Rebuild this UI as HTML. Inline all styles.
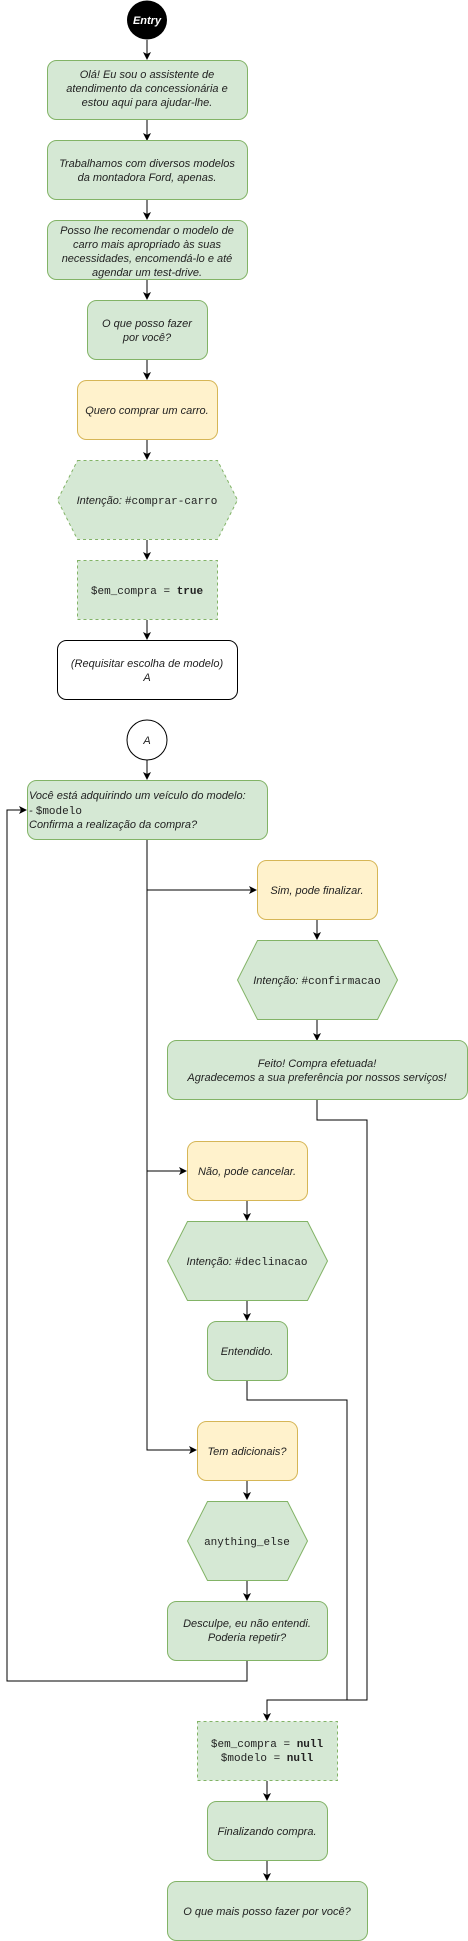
<!DOCTYPE html>
<html><head><meta charset="utf-8"><style>
html,body{margin:0;padding:0;background:#fff}
svg{display:block}
text{font-family:"Liberation Sans",sans-serif;font-size:11px;font-style:italic;fill:#222;text-anchor:middle}
.m{font-family:"Liberation Mono",monospace;font-style:normal}
.g{fill:#d5e8d4;stroke:#82b366;stroke-width:1}
.y{fill:#fff2cc;stroke:#d6b656;stroke-width:1}
.d{stroke-dasharray:3 3}
.l{fill:none;stroke:#000;stroke-width:1}
</style></head><body>
<svg width="468" height="1941" viewBox="0 0 468 1941" xmlns="http://www.w3.org/2000/svg">
<defs><marker id="a" markerWidth="8" markerHeight="8" refX="7" refY="4" orient="auto" markerUnits="userSpaceOnUse"><path d="M0,0 L8,4 L0,8 L2,4 Z" fill="#000"/></marker></defs>

<ellipse cx="147" cy="20" rx="20" ry="19.5" fill="#000"/>
<text x="147" y="24" style="fill:#fff;font-weight:bold">Entry</text>

<g class="l">
<path d="M147 40V59" marker-end="url(#a)"/>
<path d="M147 120V140" marker-end="url(#a)"/>
<path d="M147 200V219" marker-end="url(#a)"/>
<path d="M147 280V299" marker-end="url(#a)"/>
<path d="M147 360V379" marker-end="url(#a)"/>
<path d="M147 440V459" marker-end="url(#a)"/>
<path d="M147 540V559" marker-end="url(#a)"/>
<path d="M147 620V639" marker-end="url(#a)"/>
<path d="M147 760V779" marker-end="url(#a)"/>
<path d="M147 840V1450H196" marker-end="url(#a)"/>
<path d="M147 890H256" marker-end="url(#a)"/>
<path d="M147 1171H186" marker-end="url(#a)"/>
<path d="M317 920V939" marker-end="url(#a)"/>
<path d="M317 1020V1040" marker-end="url(#a)"/>
<path d="M317 1100V1120H367V1700H347"/>
<path d="M247 1201V1220" marker-end="url(#a)"/>
<path d="M247 1301V1320" marker-end="url(#a)"/>
<path d="M247 1380V1400H347V1700H267V1720" marker-end="url(#a)"/>
<path d="M247 1481V1499" marker-end="url(#a)"/>
<path d="M247 1581V1600" marker-end="url(#a)"/>
<path d="M247 1661V1681H7V810H26" marker-end="url(#a)"/>
<path d="M267 1781V1800" marker-end="url(#a)"/>
<path d="M267 1861V1880" marker-end="url(#a)"/>
</g>

<rect class="g" x="47.5" y="60.5" width="200" height="59" rx="9"/>
<text x="147" y="78">Olá! Eu sou o assistente de</text>
<text x="147" y="92">atendimento da concessionária e</text>
<text x="147" y="106">estou aqui para ajudar-lhe.</text>

<rect class="g" x="47.5" y="140.5" width="200" height="59" rx="9"/>
<text x="147" y="167">Trabalhamos com diversos modelos</text>
<text x="147" y="181">da montadora Ford, apenas.</text>

<rect class="g" x="47.5" y="220.5" width="200" height="59" rx="9"/>
<text x="147" y="234">Posso lhe recomendar o modelo de</text>
<text x="147" y="248">carro mais apropriado às suas</text>
<text x="147" y="262">necessidades, encomendá-lo e até</text>
<text x="147" y="276">agendar um test-drive.</text>

<rect class="g" x="87.5" y="300.5" width="120" height="59" rx="9"/>
<text x="147" y="327">O que posso fazer</text>
<text x="147" y="341">por você?</text>

<rect class="y" x="77.5" y="380.5" width="140" height="59" rx="9"/>
<text x="147" y="414">Quero comprar um carro.</text>

<polygon class="g d" points="77.5,460.5 217.5,460.5 237.5,500 217.5,539.5 77.5,539.5 57.5,500"/>
<text x="147" y="504">Intenção: <tspan class="m">#comprar-carro</tspan></text>

<rect class="g d" x="77.5" y="560.5" width="140" height="59"/>
<text class="m" x="147" y="594">$em_compra = <tspan style="font-weight:bold">true</tspan></text>

<rect x="57.5" y="640.5" width="180" height="59" rx="9" fill="#fff" stroke="#000"/>
<text x="147" y="667">(Requisitar escolha de modelo)</text>
<text x="147" y="681">A</text>

<circle cx="147" cy="740" r="20" fill="#fff" stroke="#000"/>
<text x="147" y="744">A</text>

<rect class="g" x="27.5" y="780.5" width="240" height="59" rx="9"/>
<text x="29" y="799" style="text-anchor:start">Você está adquirindo um veículo do modelo:</text>
<text x="29" y="814" style="text-anchor:start">- <tspan class="m">$modelo</tspan></text>
<text x="29" y="828" style="text-anchor:start">Confirma a realização da compra?</text>

<rect class="y" x="257.5" y="860.5" width="120" height="59" rx="9"/>
<text x="317" y="894">Sim, pode finalizar.</text>

<polygon class="g" points="257.5,940.5 377.5,940.5 397.5,980 377.5,1019.5 257.5,1019.5 237.5,980"/>
<text x="317" y="984">Intenção: <tspan class="m">#confirmacao</tspan></text>

<rect class="g" x="167.5" y="1040.5" width="300" height="59" rx="9"/>
<text x="317" y="1067">Feito! Compra efetuada!</text>
<text x="317" y="1081">Agradecemos a sua preferência por nossos serviços!</text>

<rect class="y" x="187.5" y="1141.5" width="120" height="59" rx="9"/>
<text x="247" y="1175">Não, pode cancelar.</text>

<polygon class="g" points="187.5,1221.5 307.5,1221.5 327.5,1261 307.5,1300.5 187.5,1300.5 167.5,1261"/>
<text x="247" y="1265">Intenção: <tspan class="m">#declinacao</tspan></text>

<rect class="g" x="207.5" y="1321.5" width="80" height="59" rx="9"/>
<text x="247" y="1355">Entendido.</text>

<rect class="y" x="197.5" y="1421.5" width="100" height="59" rx="9"/>
<text x="247" y="1455">Tem adicionais?</text>

<polygon class="g" points="207.5,1501.5 287.5,1501.5 307.5,1541 287.5,1580.5 207.5,1580.5 187.5,1541"/>
<text class="m" x="247" y="1545">anything_else</text>

<rect class="g" x="167.5" y="1601.5" width="160" height="59" rx="9"/>
<text x="247" y="1627">Desculpe, eu não entendi.</text>
<text x="247" y="1641">Poderia repetir?</text>

<rect class="g d" x="197.5" y="1721.5" width="140" height="59"/>
<text class="m" x="267" y="1747">$em_compra = <tspan style="font-weight:bold">null</tspan></text>
<text class="m" x="267" y="1761">$modelo = <tspan style="font-weight:bold">null</tspan></text>

<rect class="g" x="207.5" y="1801.5" width="120" height="59" rx="9"/>
<text x="267" y="1835">Finalizando compra.</text>

<rect class="g" x="167.5" y="1881.5" width="200" height="59" rx="9"/>
<text x="267" y="1915">O que mais posso fazer por você?</text>
</svg>
</body></html>
